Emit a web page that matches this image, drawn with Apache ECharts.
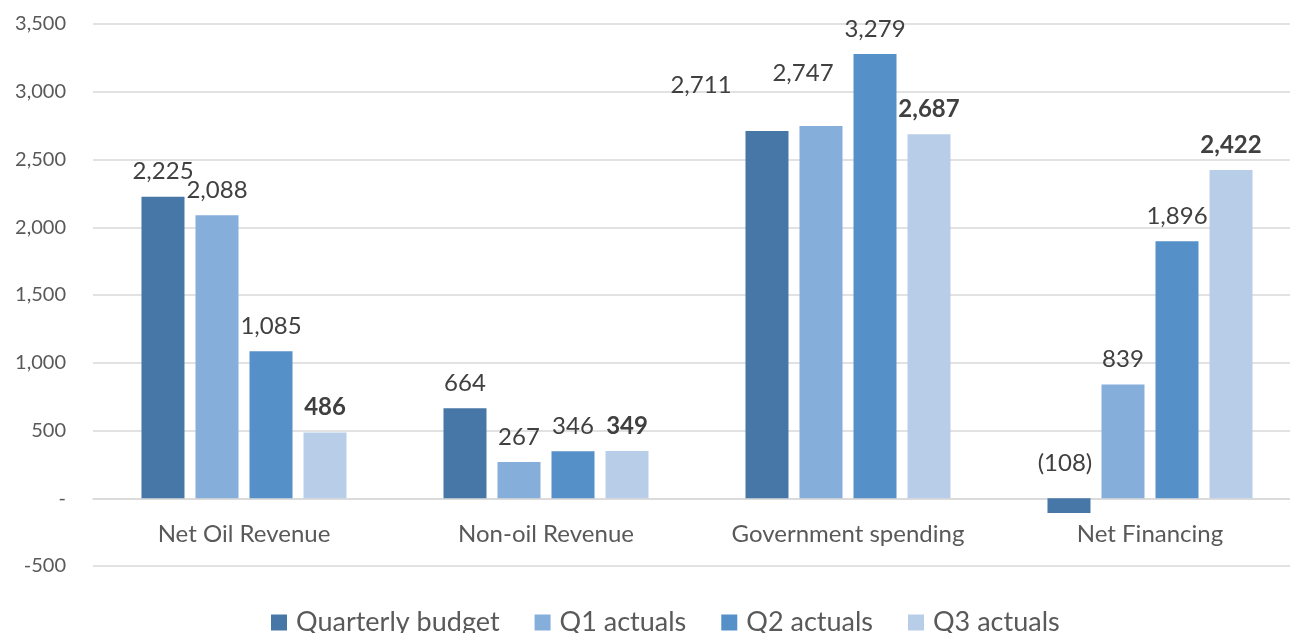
<!DOCTYPE html>
<html>
<head>
<meta charset="utf-8">
<script src="https://cdn.jsdelivr.net/npm/echarts@6/dist/echarts.min.js"></script>
<style>
html,body{margin:0;padding:0;background:#fff;overflow:hidden;width:1290px;height:633px;}
#chart{width:1301px;height:633px;}
</style>
</head>
<body>
<div id="chart"></div>
<script>
var categories = ['Net Oil Revenue', 'Non-oil Revenue', 'Government spending', 'Net Financing'];
var seriesNames = ['Quarterly budget', 'Q1 actuals', 'Q2 actuals', 'Q3 actuals'];
var budget = [2225, 664, 2711, -108];
var q1 = [2088, 267, 2747, 839];
var q2 = [1085, 346, 3279, 1896];
var q3 = [486, 349, 2687, 2422];
var yTicks = [-500, 0, 500, 1000, 1500, 2000, 2500, 3000, 3500];

var colors = ['#4677A6', '#85AEDB', '#5591C8', '#B8CDE8'];
var FONT = 'Lato';

function fmt(v) {
  var a = Math.abs(v).toString().replace(/\B(?=(\d{3})+(?!\d))/g, ',');
  return v < 0 ? '(' + a + ')' : a;
}

// manual label nudges (Excel-style moved labels), keyed by series index / data index
var labelOffsets = {
  '0-2': [-66, -21],
  '1-2': [-18, -28],
  '0-3': [-4, -10]
};

var allData = [budget, q1, q2, q3];
var series = allData.map(function (arr, si) {
  return {
    name: seriesNames[si],
    type: 'bar',
    barWidth: 43,
    barGap: '25.6%',
    itemStyle: { color: colors[si] },
    data: arr.map(function (v, di) {
      var o = { value: v };
      var off = labelOffsets[si + '-' + di];
      if (off) o.label = { offset: off };
      return o;
    }),
    label: {
      show: true,
      position: 'top',
      distance: 13,
      color: '#404040',
      fontFamily: FONT,
      fontSize: 24,
      fontWeight: si === 3 ? 'bold' : 'normal',
      formatter: function (p) { return fmt(p.value); }
    }
  };
});

var chart = echarts.init(document.getElementById('chart'));
chart.setOption({
  animation: false,
  color: colors,
  textStyle: { fontFamily: FONT },
  grid: { left: 93, right: 0, top: 24, bottom: 67, containLabel: false },
  legend: {
    data: seriesNames,
    top: 604,
    left: 266,
    itemWidth: 16,
    itemHeight: 16,
    itemGap: 35,
    icon: 'rect',
    textStyle: { color: '#595959', fontSize: 27, fontFamily: FONT, padding: [0, 0, 0, 4] }
  },
  xAxis: {
    type: 'category',
    data: categories,
    axisLine: { show: true, onZero: true, lineStyle: { color: '#d9d9d9', width: 1.5 } },
    axisTick: { show: false },
    axisLabel: { color: '#595959', fontSize: 24, fontFamily: FONT, margin: -44, interval: 0 }
  },
  yAxis: {
    type: 'value',
    min: yTicks[0],
    max: yTicks[yTicks.length - 1],
    interval: 500,
    axisLine: { show: false },
    axisTick: { show: false },
    splitLine: { lineStyle: { color: '#d9d9d9', width: 1.5 } },
    axisLabel: {
      color: '#595959',
      fontSize: 20,
      fontFamily: FONT,
      margin: 27,
      formatter: function (v) {
        if (v === 0) return '-';
        var a = Math.abs(v).toString().replace(/\B(?=(\d{3})+(?!\d))/g, ',');
        return (v < 0 ? '-' : '') + a;
      }
    }
  },
  series: series
});
</script>
</body>
</html>
